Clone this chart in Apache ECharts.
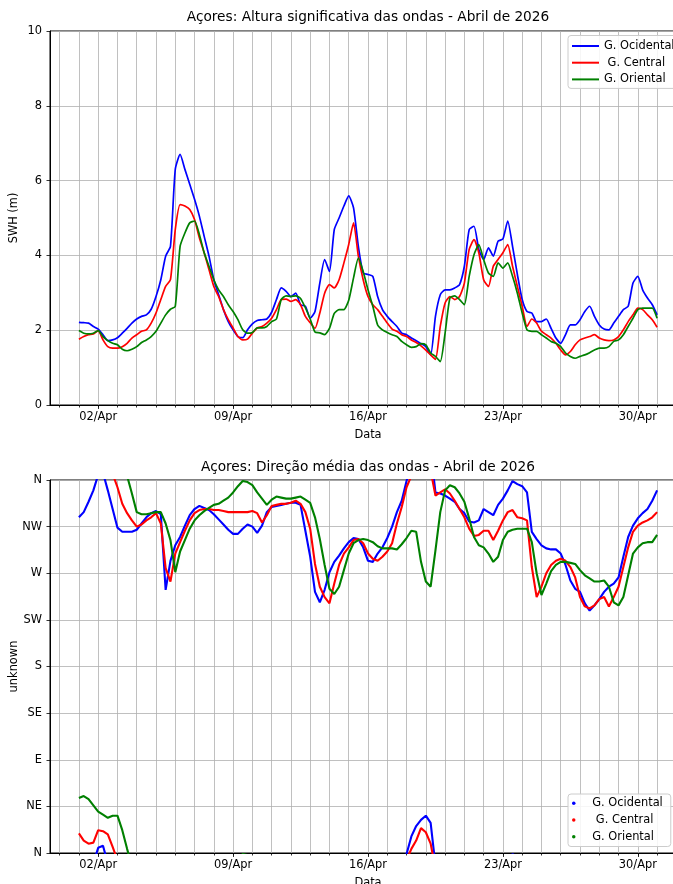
<!DOCTYPE html>
<html><head><meta charset="utf-8">
<script src="https://cdn.jsdelivr.net/npm/echarts@6/dist/echarts.min.js"></script>
<style>html,body{margin:0;padding:0;overflow:hidden;background:#fff}#c{width:720px;height:884px}</style>
</head><body><div id="c"></div><script>
// ---------- DATA (6-hourly, 2026-04-01 00:00 to 2026-05-01 00:00) ----------
const seriesNames = ['G. Ocidental', ' G. Central', 'G. Oriental'];
const seriesColors = ['#0000ff', '#ff0000', '#008000'];
const xTickLabels = ['02/Apr', '09/Apr', '16/Apr', '23/Apr', '30/Apr'];
const swhTicks = [0, 2, 4, 6, 8, 10];
const dirTickLabels = ['N', 'NE', 'E', 'SE', 'S', 'SW', 'W', 'NW', 'N'];

const swhOcidental = [
2.21,2.20,2.19,2.10, 2.03,1.88,1.72,1.74, 1.80,1.92,2.05,2.19, 2.30,2.37,2.41,2.56,
2.90,3.35,3.98,4.24, 6.30,6.70,6.30,5.90, 5.50,5.05,4.51,3.98, 3.35,2.95,2.55,2.23,
2.01,1.83,1.80,2.01, 2.17,2.26,2.28,2.30, 2.48,2.82,3.13,3.04, 2.90,2.99,2.68,2.64,
2.32,2.50,3.26,3.89, 3.57,4.69,5.00,5.32, 5.59,5.27,4.24,3.53, 3.49,3.44,2.90,2.55,
2.37,2.23,2.10,1.92, 1.88,1.79,1.72,1.64, 1.56,1.34,2.37,2.95, 3.08,3.08,3.13,3.22,
3.71,4.69,4.78,4.16, 3.89,4.20,3.98,4.38, 4.44,4.92,4.24,3.49, 2.82,2.50,2.46,2.23,
2.23,2.30,2.05,1.79, 1.65,1.88,2.14,2.14, 2.28,2.50,2.64,2.37, 2.14,2.03,2.01,2.19,
2.37,2.55,2.64,3.26, 3.44,3.08,2.86,2.68, 2.41];
const swhCentral = [
1.76,1.83,1.88,1.90, 1.99,1.74,1.56,1.52, 1.52,1.56,1.65,1.79, 1.88,1.97,2.01,2.19,
2.46,2.82,3.17,3.35, 4.69,5.36,5.32,5.23, 4.96,4.47,4.07,3.62, 3.17,2.90,2.55,2.28,
2.06,1.83,1.74,1.76, 1.92,2.06,2.10,2.19, 2.32,2.55,2.82,2.83, 2.77,2.82,2.68,2.37,
2.20,2.05,2.46,2.99, 3.22,3.13,3.35,3.80, 4.29,4.87,3.98,3.35, 2.90,2.68,2.55,2.37,
2.19,2.03,1.97,1.88, 1.83,1.74,1.67,1.58, 1.47,1.34,1.22,2.10, 2.73,2.90,2.82,2.90,
3.26,4.16,4.42,4.07, 3.35,3.17,3.71,3.89, 4.07,4.29,3.71,3.17, 2.64,2.10,2.30,2.19,
1.97,1.88,1.79,1.65, 1.47,1.34,1.43,1.61, 1.74,1.79,1.83,1.88, 1.79,1.74,1.72,1.74,
1.83,2.01,2.23,2.41, 2.59,2.55,2.41,2.28, 2.08];
const swhOriental = [
1.99,1.92,1.90,1.92, 1.99,1.83,1.72,1.65, 1.61,1.49,1.45,1.49, 1.56,1.67,1.74,1.83,
1.97,2.19,2.41,2.56, 2.64,4.24,4.60,4.87, 4.92,4.56,4.07,3.71, 3.35,3.08,2.90,2.68,
2.50,2.28,2.01,1.92, 1.94,2.06,2.06,2.10, 2.23,2.30,2.82,2.92, 2.90,2.92,2.85,2.60,
2.30,1.95,1.93,1.88, 2.05,2.45,2.55,2.55, 2.80,3.40,3.93,3.57, 3.08,2.64,2.14,2.01,
1.94,1.88,1.83,1.70, 1.61,1.54,1.56,1.64, 1.61,1.39,1.30,1.16, 1.92,2.86,2.92,2.82,
2.68,3.44,4.02,4.29, 3.89,3.53,3.44,3.80, 3.66,3.80,3.44,2.99, 2.46,2.01,1.97,1.97,
1.88,1.79,1.70,1.65, 1.56,1.39,1.30,1.25, 1.30,1.34,1.40,1.47, 1.52,1.52,1.56,1.70,
1.74,1.88,2.10,2.32, 2.55,2.59,2.59,2.59, 2.32];

const dirOcidental = [
324,329,339,350, 5,7,350,332, 314,310,310,310, 312,318,324,328,
330,327,254,282, 297,305,316,326, 332,335,333,331, 327,322,317,312,
308,308,313,317, 315,309,316,329, 334,335,336,337, 338,338,336,311,
286,252,242,254, 271,281,287,294, 300,304,303,295, 282,281,289,295,
304,315,329,340, 359,16,26,32, 36,29,348,347, 345,342,339,332,
328,320,319,321, 332,329,326,336, 342,350,359,356, 354,348,310,303,
297,294,293,293, 289,278,263,255, 252,241,234,239, 245,252,257,260,
266,286,305,316, 323,328,332,340, 350];
const dirCentral = [
19,12,9,10, 22,21,18,6, 353,337,328,321, 315,317,321,324,
328,318,275,262, 289,300,311,321, 328,331,332,332, 331,331,330,329,
329,329,329,329, 330,328,319,326, 335,336,337,337, 338,340,337,329,
313,279,257,247, 241,260,278,289, 295,302,303,299, 289,284,282,286,
291,299,318,334, 353,4,12,24, 20,9,345,348, 351,347,340,332,
324,313,306,307, 311,311,302,311, 321,329,331,324, 323,321,276,247,
257,270,278,282, 284,282,276,266, 247,238,236,239, 245,247,238,247,
257,276,295,310, 316,319,321,324, 329];
const dirOriental = [
53,55,52,46, 40,37,34,36, 36,22,4,347, 329,327,327,328,
329,329,318,302, 271,291,302,313, 321,326,330,333, 336,337,340,343,
348,354,359,358, 355,348,342,336, 341,344,343,342, 342,343,344,341,
338,324,303,278, 255,250,257,273, 289,299,302,303, 302,300,296,294,
294,294,293,298, 304,311,310,281, 262,257,292,329, 350,355,353,347,
339,323,305,297, 295,289,281,286, 302,310,312,313, 313,313,300,270,
249,260,272,278, 281,281,280,279, 273,268,265,262, 262,263,257,242,
239,247,268,289, 295,299,300,300, 307];

// ---------- AXIS CATEGORIES (6-hourly, with plot margins) ----------
const MONTHS = ['Jan','Feb','Mar','Apr','May','Jun','Jul','Aug','Sep','Oct','Nov','Dec'];
const H6 = 6 * 3600e3;
const axisStart = Date.UTC(2026, 2, 30, 12);
const axisEnd = Date.UTC(2026, 4, 2, 12);
const dataStart = Date.UTC(2026, 3, 1, 0);
const catKeys = [];
for (let t = axisStart; t <= axisEnd; t += H6) catKeys.push(String(t));
const dataOffset = Math.round((dataStart - axisStart) / H6);

const pad = n => (n < 10 ? '0' : '') + n;
const fmt = v => { const d = new Date(+v); return pad(d.getUTCDate()) + '/' + MONTHS[d.getUTCMonth()]; };
const isMidnight = v => new Date(+v).getUTCHours() === 0;
const isMajor = v => isMidnight(v) && xTickLabels.includes(fmt(v));

const FONT = 'DejaVu Sans';
const TS = 11.4;
const black = '#000';
const gridColor = '#b0b0b0';

function xAxisCfg(gi, gap) {
  return {
    type: 'category', gridIndex: gi, data: catKeys, boundaryGap: false,
    name: 'Data', nameLocation: 'middle', nameGap: gap, nameMoveOverlap: false,
    nameTextStyle: { fontFamily: FONT, fontSize: TS, color: black },
    axisLine: { show: true, onZero: false, lineStyle: { color: black, width: 1 } },
    axisTick: { show: true, length: 2.5, interval: (i, v) => isMidnight(v), lineStyle: { color: black, width: 0.8 } },
    axisLabel: { margin: 7, interval: (i, v) => isMajor(v),
      formatter: v => fmt(v), fontFamily: FONT, fontSize: TS, color: black },
    splitLine: { show: true, interval: (i, v) => isMidnight(v), lineStyle: { color: gridColor, width: 0.8 } }
  };
}
function xMajorTickAxis(gi) {
  return {
    type: 'category', gridIndex: gi, data: catKeys, boundaryGap: false, position: 'bottom',
    axisLine: { show: false }, axisLabel: { show: false }, splitLine: { show: false },
    axisTick: { show: true, length: 4, interval: (i, v) => isMajor(v), lineStyle: { color: black, width: 0.8 } }
  };
}
function yAxisCfg(gi, opts) {
  return Object.assign({
    type: 'value', gridIndex: gi,
    nameLocation: 'middle', nameRotate: 90, nameMoveOverlap: false,
    nameTextStyle: { fontFamily: FONT, fontSize: TS, color: black },
    axisLine: { show: true, lineStyle: { color: black, width: 1 } },
    axisTick: { show: true, length: 3.5, lineStyle: { color: black, width: 0.8 } },
    axisLabel: { margin: 8, fontFamily: FONT, fontSize: TS, color: black },
    splitLine: { show: true, lineStyle: { color: gridColor, width: 0.8 } }
  }, opts);
}

const toData = vals => vals.map((v, i) => [catKeys[i + dataOffset], v]);
function unwrap(vals) {
  const out = []; let prev = null;
  for (const v of vals) {
    let u = v;
    if (prev !== null) { while (u - prev > 180) u -= 360; while (u - prev < -180) u += 360; }
    out.push(u); prev = u;
  }
  return out;
}

const swhSets = [swhOcidental, swhCentral, swhOriental];
const dirSets = [dirOcidental, dirCentral, dirOriental];
const series = [];
swhSets.forEach((vals, k) => {
  series.push({ type: 'line', name: seriesNames[k], xAxisIndex: 0, yAxisIndex: 0,
    data: toData(vals), showSymbol: false, smooth: 0.2, color: seriesColors[k],
    lineStyle: { width: 1.7, color: seriesColors[k] }, z: 3 });
});
dirSets.forEach((vals, k) => {
  const u = unwrap(vals);
  [-360, 0, 360].forEach(off => {
    series.push({ type: 'line', name: seriesNames[k], xAxisIndex: 1, yAxisIndex: 1,
      data: toData(u.map(x => x + off)), showSymbol: false, clip: true, color: seriesColors[k],
      lineStyle: { width: 2.1, color: seriesColors[k] }, z: 3 });
  });
});

const legendBase = {
  orient: 'vertical', left: 568, itemGap: 5.7,
  backgroundColor: 'rgba(255,255,255,0.85)', borderColor: '#cccccc', borderWidth: 1, borderRadius: 3,
  textStyle: { fontFamily: FONT, fontSize: TS, color: black },
  itemStyle: { borderWidth: 0 }, data: seriesNames, selectedMode: false
};

const gridBase = { outerBoundsMode: 'none', containLabel: false, show: true, borderColor: black, borderWidth: 1, backgroundColor: 'transparent' };

const option = {
  animation: false,
  backgroundColor: '#fff',
  title: [
    { text: 'Açores: Altura significativa das ondas - Abril de 2026', left: 368, top: 10, padding: 0,
      textAlign: 'center', textStyle: { fontFamily: FONT, fontSize: 13.7, fontWeight: 'normal', color: black } },
    { text: 'Açores: Direção média das ondas - Abril de 2026', left: 368, top: 460, padding: 0,
      textAlign: 'center', textStyle: { fontFamily: FONT, fontSize: 13.7, fontWeight: 'normal', color: black } }
  ],
  legend: [
    Object.assign({}, legendBase, { top: 35.5, padding: [5, 8, 3.5, 4], icon: 'rect', itemWidth: 27, itemHeight: 2 }),
    Object.assign({}, legendBase, { top: 794, padding: [3.8, 8, 4.3, 4], icon: 'circle', itemWidth: 27, itemHeight: 3.5 })
  ],
  grid: [
    Object.assign({ left: 50, top: 31, width: 636, height: 374 }, gridBase),
    Object.assign({ left: 50, top: 480, width: 636, height: 373 }, gridBase)
  ],
  xAxis: [xAxisCfg(0, 25), xAxisCfg(1, 25), xMajorTickAxis(0), xMajorTickAxis(1)],
  yAxis: [
    yAxisCfg(0, { min: swhTicks[0], max: swhTicks[swhTicks.length - 1], interval: 2, name: 'SWH (m)', nameGap: 30 }),
    yAxisCfg(1, { min: 0, max: 360, interval: 45, name: 'unknown', nameGap: 30,
      axisLabel: { margin: 8, fontFamily: FONT, fontSize: TS, color: black, formatter: v => dirTickLabels[Math.round(v / 45)] } })
  ],
  series: series
};
const chart = echarts.init(document.getElementById('c'), null, { renderer: 'canvas' });
chart.setOption(option);
</script></body></html>
